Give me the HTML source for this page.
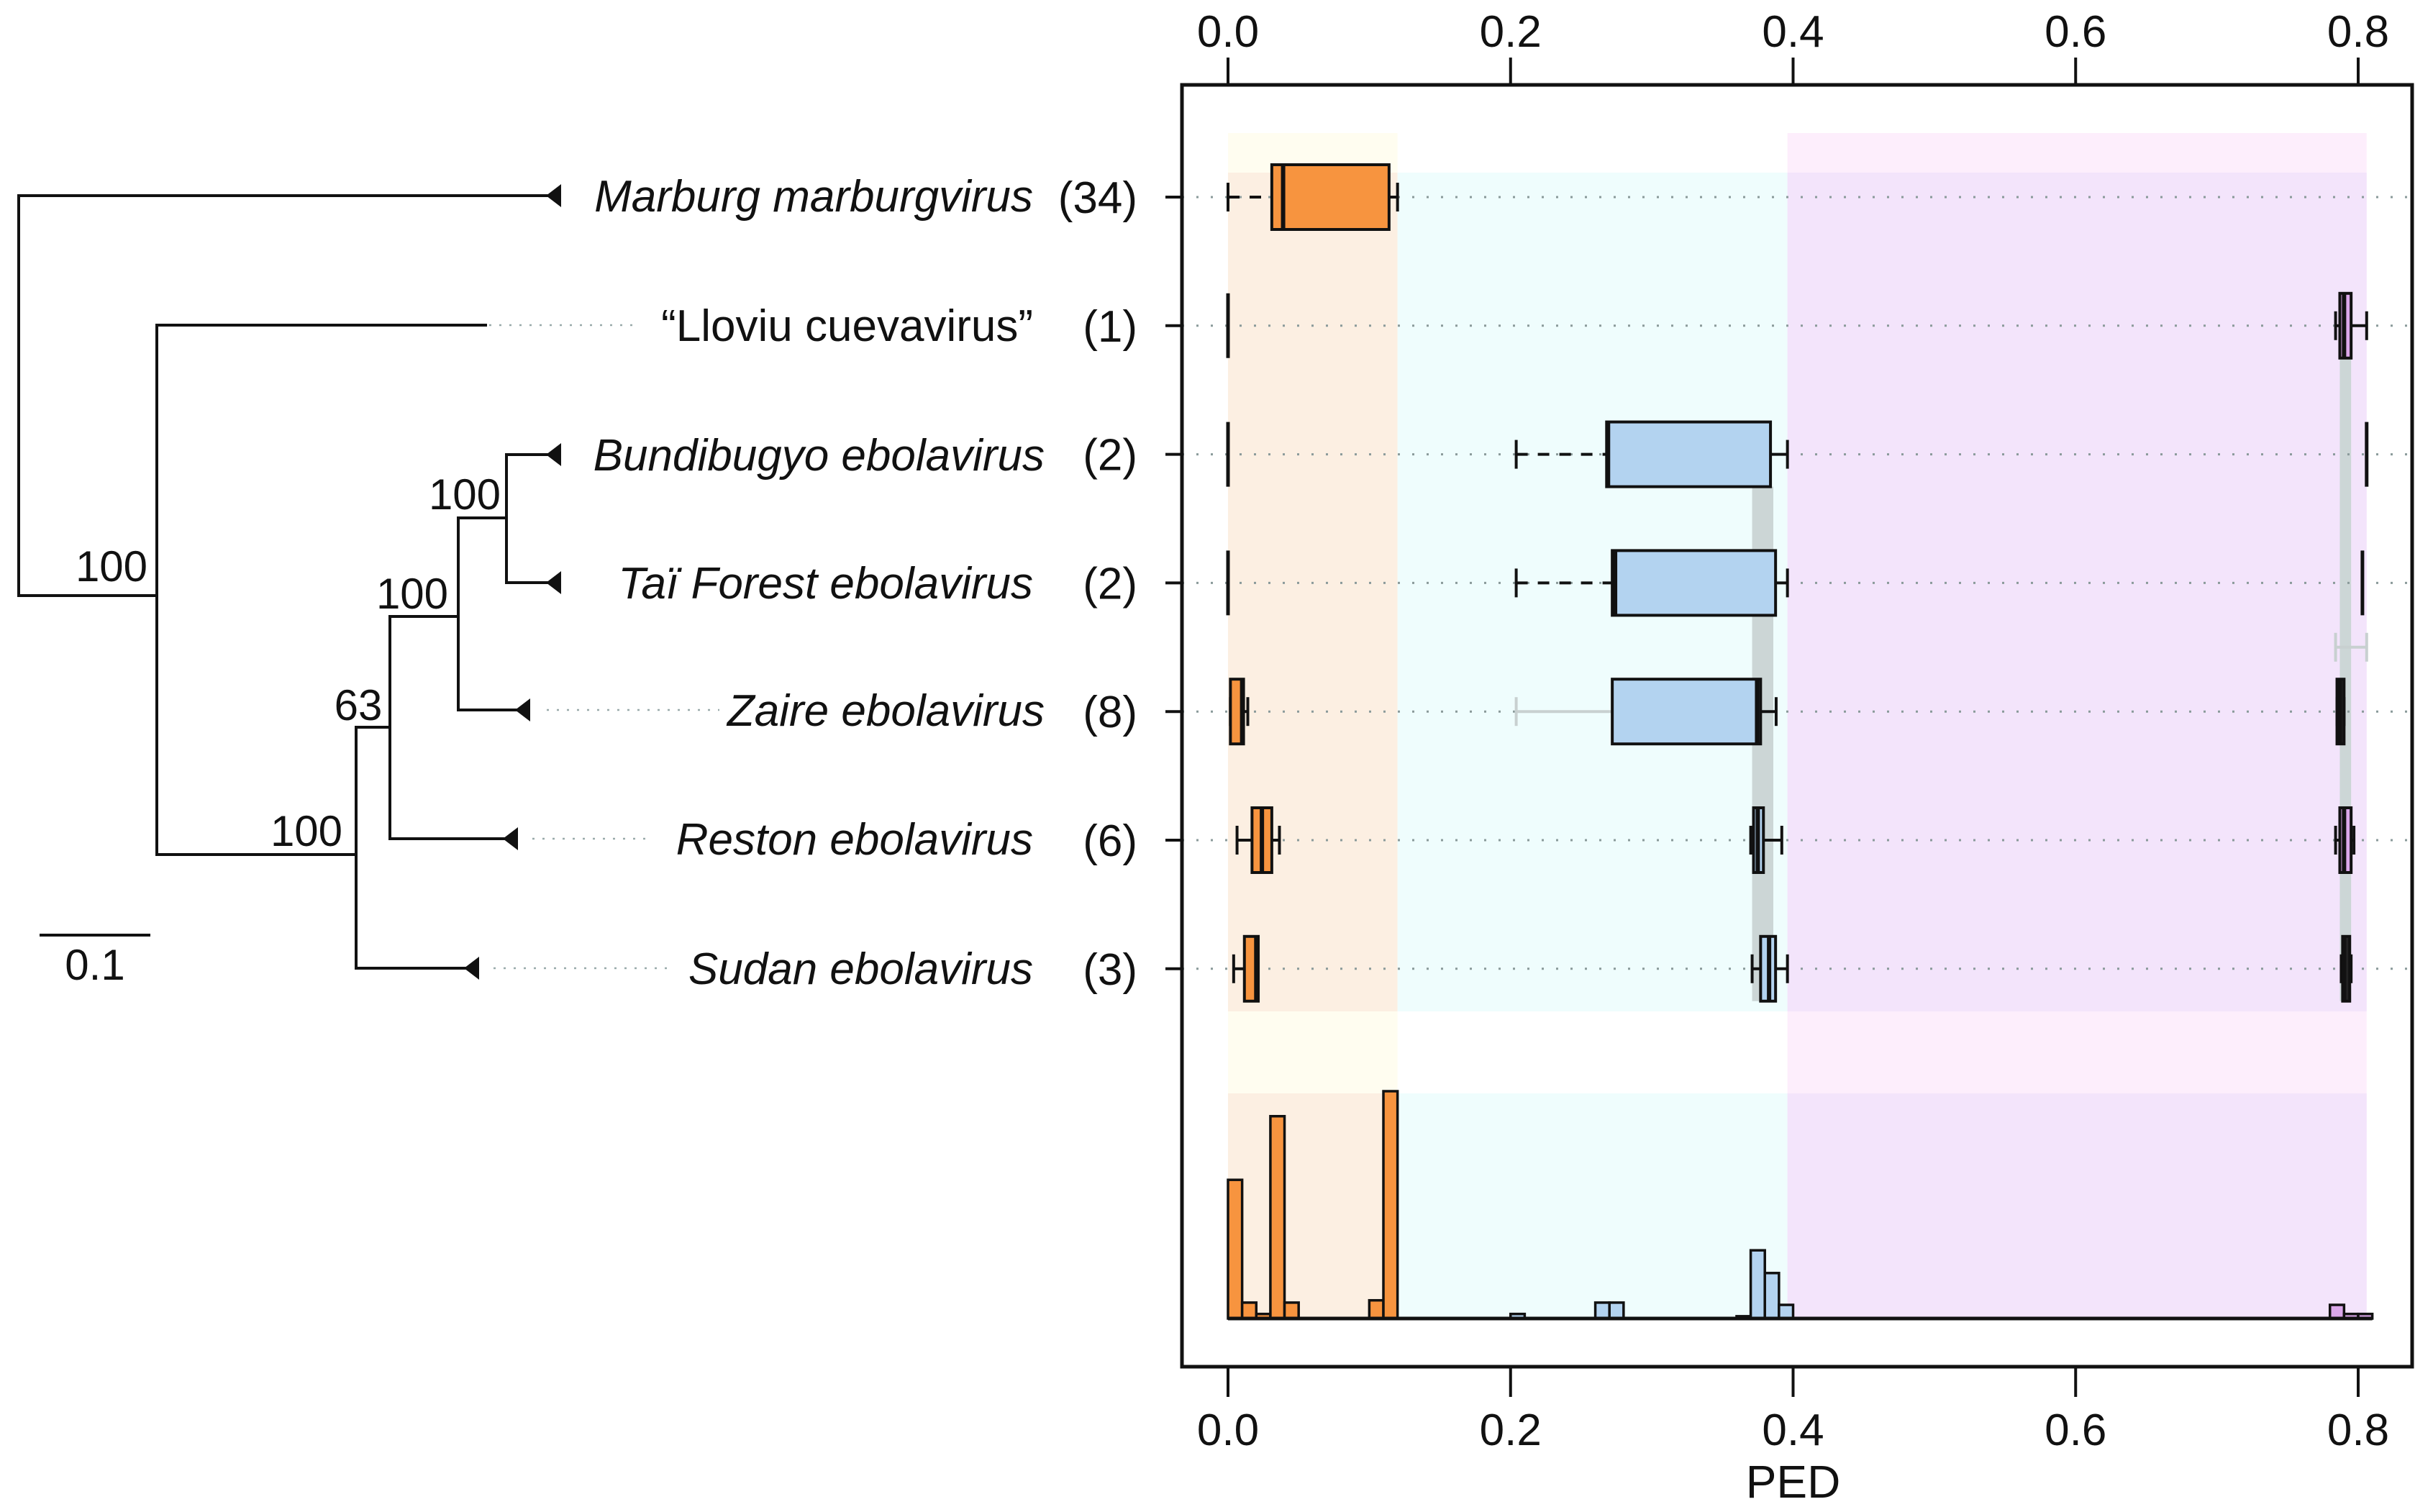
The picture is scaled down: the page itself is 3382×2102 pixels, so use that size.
<!DOCTYPE html>
<html><head><meta charset="utf-8"><style>
html,body{margin:0;padding:0;background:#fff}
svg{display:block}
text{font-family:"Liberation Sans",sans-serif;fill:#111}
</style></head><body>
<svg id="fig" xmlns="http://www.w3.org/2000/svg" width="3382" height="2102" viewBox="0 0 3382 2102">
<g id="tree" stroke="#111" stroke-width="4" fill="none">
  <path d="M780 272 H26 V828 H218"/>
  <path d="M677 452 H218 V1188 H495"/>
  <path d="M656 1346 H495 V1011 H542"/>
  <path d="M709 1166 H542 V857 H637"/>
  <path d="M727 987 H637 V720 H704"/>
  <path d="M780 632 H704 V810 H780"/>
  <path d="M55 1300 H209"/>
</g>
<g fill="#111">
  <polygon points="759,272 780,256 780,288"/>
  <polygon points="759,632 780,616 780,648"/>
  <polygon points="759,810 780,794 780,826"/>
  <polygon points="716,987 737,971 737,1003"/>
  <polygon points="699,1166 720,1150 720,1182"/>
  <polygon points="645,1346 666,1330 666,1362"/>
</g>
<g stroke="#9aa" stroke-width="2.5" stroke-dasharray="3 11">
  <line x1="680" y1="452" x2="880" y2="452"/>
  <line x1="760" y1="987" x2="1000" y2="987"/>
  <line x1="740" y1="1166" x2="906" y2="1166"/>
  <line x1="686" y1="1346" x2="927" y2="1346"/>
</g>
<g font-size="60">
  <text x="155" y="808" text-anchor="middle">100</text>
  <text x="646" y="708" text-anchor="middle">100</text>
  <text x="573" y="846" text-anchor="middle">100</text>
  <text x="498" y="1001" text-anchor="middle">63</text>
  <text x="426" y="1176" text-anchor="middle">100</text>
  <text x="132" y="1362" text-anchor="middle">0.1</text>
</g>
<g font-size="62">
  <text x="1436" y="294" text-anchor="end" font-style="italic">Marburg marburgvirus</text>
  <text x="1436" y="474" text-anchor="end">“Lloviu cuevavirus”</text>
  <text x="1452" y="654" text-anchor="end" font-style="italic">Bundibugyo ebolavirus</text>
  <text x="1436" y="832" text-anchor="end" font-style="italic">Taï Forest ebolavirus</text>
  <text x="1452" y="1009" text-anchor="end" font-style="italic">Zaire ebolavirus</text>
  <text x="1436" y="1188" text-anchor="end" font-style="italic">Reston ebolavirus</text>
  <text x="1436" y="1368" text-anchor="end" font-style="italic">Sudan ebolavirus</text>
</g>
<g id="counts" font-size="62" text-anchor="end"></g>
<g id="chart"></g>
</svg>
<script>
const NS="http://www.w3.org/2000/svg";
const rowCounts=["(34)","(1)","(2)","(2)","(8)","(6)","(3)"];
const tickValues=[0.0,0.2,0.4,0.6,0.8];
const tickLabels=["0.0","0.2","0.4","0.6","0.8"];
// boxplot stats per row: [low whisker, q1, median, q3, high whisker]
const orangeStats=[[0,0.031,0.039,0.114,0.12],[0,0,0,0,0],[0,0,0,0,0],[0,0,0,0,0],[0.0017,0.0017,0.010,0.011,0.014],[0.0064,0.017,0.024,0.031,0.0364],[0.004,0.0116,0.020,0.0214,0.0214]];
const blueStats=[null,null,[0.204,0.268,0.269,0.384,0.396],[0.204,0.272,0.274,0.3876,0.396],[0.204,0.272,0.3745,0.377,0.388],[0.370,0.372,0.375,0.379,0.392],[0.371,0.377,0.383,0.3876,0.396]];
const purpleStats=[null,[0.784,0.787,0.790,0.795,0.806],[0.806,0.806,0.806,0.806,0.806],[0.803,0.803,0.803,0.803,0.803],[0.785,0.785,0.787,0.790,0.790],[0.784,0.787,0.790,0.795,0.797],[0.788,0.789,0.790,0.794,0.795]];
const dashedRows=[0,2,3];
const histBins=[0.00,0.01,0.02,0.03,0.04,0.10,0.11,0.20,0.26,0.27,0.36,0.37,0.38,0.39,0.78,0.79,0.80];
const histCounts=[61,7,2,89,7,8,100,2,7,7,1,30,20,6,6,2,2];
const histGroup=[0,0,0,0,0,0,0,1,1,1,1,1,1,1,2,2,2];
const binWidth=0.01;

const X0=1707,XS=1963.75;
const x=v=>X0+v*XS;
const rowY=i=>274+i*178.8;
const HB=1833,HS=3.16;
const hy=c=>HB-c*HS;
const BOXL=1643,BOXR=3353,BOXT=118,BOXB=1900;
const fills=["#f7943f","#b3d3f0","#dba8ea"];
const chart=document.getElementById('chart');
function mk(tag,attrs,parent){const e=document.createElementNS(NS,tag);for(const k in attrs)e.setAttribute(k,attrs[k]);(parent||chart).appendChild(e);return e;}

let e;
e=mk('rect',{x:x(0),y:185,width:x(0.12)-x(0),height:1833-185,fill:"#fffdf0"});


e=mk('rect',{x:x(0.396),y:185,width:x(0.806)-x(0.396),height:1833-185,fill:"#fdeefc"});


[[240,1406],[1520,1833]].forEach(([a,b])=>{
  e=mk('rect',{x:x(0),y:a,width:x(0.12)-x(0),height:b-a,fill:"#fcefe2"});
  
  
  e=mk('rect',{x:x(0.12),y:a,width:x(0.396)-x(0.12),height:b-a,fill:"#effdfd"});
  
  
  e=mk('rect',{x:x(0.396),y:a,width:x(0.806)-x(0.396),height:b-a,fill:"#f3e4fb"});
  
  
});
e=mk('rect',{x:x(0.371),y:rowY(2)+45,width:x(0.386)-x(0.371),height:rowY(6)-rowY(2),fill:"#ccd6d6"});


e=mk('rect',{x:x(0.787),y:rowY(1)+45,width:x(0.795)-x(0.787),height:rowY(6)-rowY(1),fill:"#ccd6d6"});



const counts=document.getElementById('counts');
rowCounts.forEach((c,i)=>{
  const y=rowY(i);
  e=mk('line',{x1:BOXL,y1:y,x2:BOXR,y2:y,stroke:"#8a9a9a","stroke-width":3,"stroke-dasharray":"3 17"});
  
  
  e=mk('line',{x1:1620,y1:y,x2:BOXL,y2:y,stroke:"#111","stroke-width":4});
  
  
  e=mk('text',{x:1581,y:y+22},counts);e.textContent=c;
  
  
});

function drawBox(s,i,fill,dashed,grayLow){
  const y=rowY(i),h=45;
  if(s[0]===s[4]){
    e=mk('line',{x1:x(s[0]),y1:y-h,x2:x(s[0]),y2:y+h,stroke:"#111","stroke-width":5});
    
    
    return;
  }
  e=mk('line',{x1:x(s[0]),y1:y,x2:x(s[1]),y2:y,stroke:grayLow?"#c8d0d0":"#111","stroke-width":4,"stroke-dasharray":dashed?"16 14":"none"});
  
  
  e=mk('line',{x1:x(s[0]),y1:y-20,x2:x(s[0]),y2:y+20,stroke:grayLow?"#c8d0d0":"#111","stroke-width":4});
  
  
  e=mk('line',{x1:x(s[3]),y1:y,x2:x(s[4]),y2:y,stroke:"#111","stroke-width":4});
  
  
  e=mk('line',{x1:x(s[4]),y1:y-20,x2:x(s[4]),y2:y+20,stroke:"#111","stroke-width":4});
  
  
  e=mk('rect',{x:x(s[1]),y:y-h,width:Math.max(x(s[3])-x(s[1]),4),height:2*h,fill:fill,stroke:"#111","stroke-width":4});
  
  
  e=mk('line',{x1:x(s[2]),y1:y-h,x2:x(s[2]),y2:y+h,stroke:"#111","stroke-width":6});
  
  
}
orangeStats.forEach((s,i)=>{if(s)drawBox(s,i,fills[0],dashedRows.includes(i),false);});
blueStats.forEach((s,i)=>{if(s)drawBox(s,i,fills[1],dashedRows.includes(i),i===4);});
purpleStats.forEach((s,i)=>{if(s)drawBox(s,i,(i===4||i===6)?"#222":fills[2],false,false);});
e=mk('line',{x1:x(0.784),y1:(rowY(3)+rowY(4))/2,x2:x(0.806),y2:(rowY(3)+rowY(4))/2,stroke:"#c8d0d0","stroke-width":4});


[0.784,0.806].forEach(v=>{
  e=mk('line',{x1:x(v),y1:(rowY(3)+rowY(4))/2-20,x2:x(v),y2:(rowY(3)+rowY(4))/2+20,stroke:"#c8d0d0","stroke-width":4});
  
  
});

histBins.forEach((b,i)=>{
  e=mk('rect',{x:x(b),y:hy(histCounts[i]),width:x(b+binWidth)-x(b),height:HB-hy(histCounts[i]),fill:fills[histGroup[i]],stroke:"#111","stroke-width":3.5});
  
  
});
e=mk('line',{x1:x(0),y1:HB,x2:x(0.81),y2:HB,stroke:"#111","stroke-width":5});



e=mk('rect',{x:BOXL,y:BOXT,width:BOXR-BOXL,height:BOXB-BOXT,fill:"none",stroke:"#111","stroke-width":5});


tickValues.forEach((v,i)=>{
  e=mk('line',{x1:x(v),y1:80,x2:x(v),y2:BOXT,stroke:"#111","stroke-width":4});
  
  
  e=mk('text',{x:x(v),y:65,"text-anchor":"middle","font-size":62});e.textContent=tickLabels[i];
  
  
  e=mk('line',{x1:x(v),y1:BOXB,x2:x(v),y2:1942,stroke:"#111","stroke-width":4});
  
  
  e=mk('text',{x:x(v),y:2009,"text-anchor":"middle","font-size":62});e.textContent=tickLabels[i];
  
  
});
e=mk('text',{x:x(0.4),y:2082,"text-anchor":"middle","font-size":64});e.textContent="PED";


</script>
</body></html>
